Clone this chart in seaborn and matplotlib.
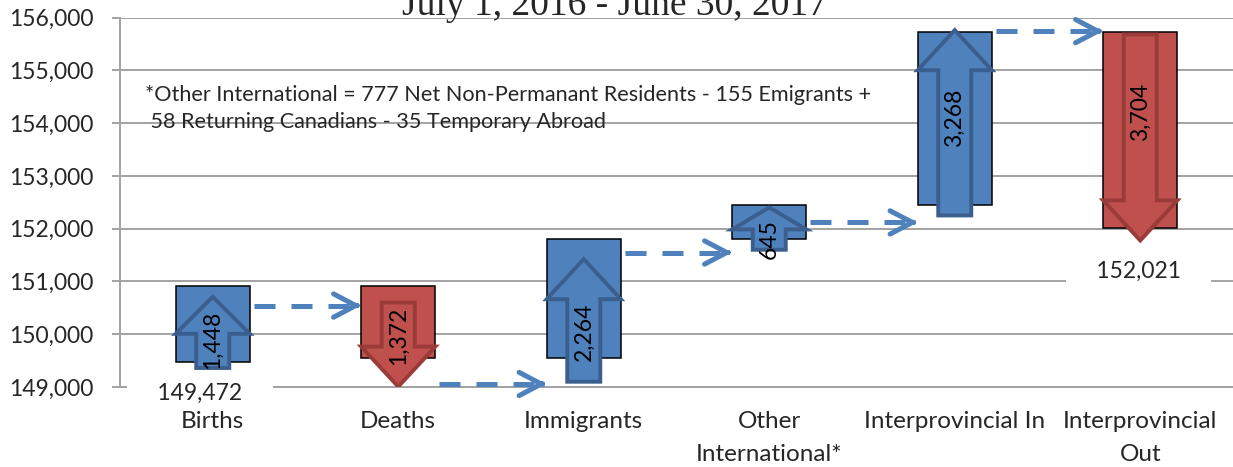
import numpy as np
import pandas as pd
import matplotlib
matplotlib.use("Agg")
import matplotlib.pyplot as plt
from matplotlib.patches import Polygon
import seaborn as sns

# ---------------- data ----------------
categories = ["Births", "Deaths", "Immigrants", "Other\nInternational*",
              "Interprovincial In", "Interprovincial\nOut"]
start_value = 149472
changes = [1448, -1372, 2264, 645, 3268, -3704]
# hand-drawn arrow shapes (tail, tip)
arrow_tail = [149360, 150600, 149100, 151600, 152250, 155679]
arrow_tip = [150708, 149006, 151423, 152402, 155761, 151776]
# centre of the rotated value labels
label_center = [149892, 149968, 150053, 151808, 154104, 154209]
# dashed connectors between columns
connector_level = [150543, 149057, 151548, 152118, 155742]
# start / end value labels (anchor heights)
start_label_y = 148877
end_label_y = 151192
note_lines = ["*Other International = 777 Net Non-Permanant Residents - 155 Emigrants +",
              " 58 Returning Canadians - 35 Temporary Abroad"]
title = "July 1, 2016 - June 30, 2017"
y_ticks = [149000, 150000, 151000, 152000, 153000, 154000, 155000, 156000]

# derived waterfall values
levels = np.concatenate([[start_value], start_value + np.cumsum(changes)])
bottoms = np.minimum(levels[:-1], levels[1:])
heights = np.abs(np.diff(levels))
end_value = int(levels[-1])

BLUE = "#4F81BD"
BLUE_EDGE = "#3A5F8E"
RED = "#C0504D"
RED_EDGE = "#9B3B39"
GRID = "#A3A3A3"

sns.set_style("white")
plt.rcParams["font.family"] = ["Lato", "DejaVu Sans"]

W, H = 1233, 467
fig = plt.figure(figsize=(W / 100, H / 100), dpi=100)
ax = fig.add_axes([120 / W, 1 - 387 / H, (W - 120) / W, (387 - 17.5) / H])

df = pd.DataFrame({"category": categories, "height": heights})
sns.barplot(data=df, x="category", y="height", bottom=bottoms, order=categories,
            width=0.4, errorbar=None, edgecolor="black", linewidth=1.1,
            color=BLUE, ax=ax, zorder=3)
for patch, ch in zip(ax.patches, changes):
    patch.set_facecolor(BLUE if ch > 0 else RED)

# fat arrows
hw, sw = 0.2, 0.089
for i, (t0, t1, ch) in enumerate(zip(arrow_tail, arrow_tip, changes)):
    d = np.sign(t1 - t0)
    hl = min(760, 0.52 * abs(t1 - t0)) * d
    c = i
    pts = [(c - sw, t0), (c + sw, t0), (c + sw, t1 - hl), (c + hw, t1 - hl),
           (c, t1), (c - hw, t1 - hl), (c - sw, t1 - hl)]
    fc, ec = (BLUE, BLUE_EDGE) if ch > 0 else (RED, RED_EDGE)
    ax.add_patch(Polygon(pts, closed=True, facecolor=fc, edgecolor=ec,
                         linewidth=2.8, joinstyle="miter", zorder=4))

# rotated value labels
for i, (ch, yc) in enumerate(zip(changes, label_center)):
    ax.text(i, yc, f"{abs(ch):,}", rotation=90, ha="center", va="center",
            fontsize=16.5, color="black", zorder=6)

# dashed connectors
for i, lv in enumerate(connector_level):
    x0, x1 = i + 0.22, i + 0.80
    ax.plot([x0, x1 - 0.02], [lv, lv], color=BLUE, lw=3.6,
            ls=(0, (4.2, 3.2)), dash_capstyle="butt", zorder=5)
    ax.annotate("", xy=(x1, lv), xytext=(x1 - 0.03, lv),
                arrowprops=dict(arrowstyle="->,head_length=0.8,head_width=0.42",
                                color=BLUE, lw=3.6, shrinkA=0, shrinkB=0,
                                mutation_scale=20), zorder=5)

# start / end labels with white background
ax.text(-0.07, start_label_y, "     " + f"{start_value:,}" + "     ", ha="center",
        va="center", fontsize=16.5, zorder=7,
        bbox=dict(boxstyle="square,pad=0.05", fc="white", ec="none"))
ax.text(len(categories) - 1 - 0.01, end_label_y, "     " + f"{end_value:,}" + "     ",
        ha="center", va="center", fontsize=16.5, zorder=7,
        bbox=dict(boxstyle="square,pad=0.05", fc="white", ec="none"))

# note
ax.text(0.0225, 1 - (95 - 17.5) / (387 - 17.5), note_lines[0], transform=ax.transAxes,
        ha="left", va="center", fontsize=15.6)
ax.text(0.0225, 1 - (122 - 17.5) / (387 - 17.5), note_lines[1], transform=ax.transAxes,
        ha="left", va="center", fontsize=15.6)

# axes styling
ax.set_ylim(y_ticks[0], y_ticks[-1])
ax.set_xlim(-0.5, len(categories) - 0.5)
ax.set_yticks(y_ticks)
ax.set_yticklabels([f"{v:,}" for v in y_ticks])
ax.yaxis.grid(True, color=GRID, lw=1.4, zorder=0)
ax.set_axisbelow(True)
ax.set_xticks(range(len(categories)))
ax.set_xticklabels(categories, linespacing=1.75)
ax.set_xticks(np.arange(-0.5, len(categories)), minor=True)
ax.tick_params(axis="x", which="major", length=0, pad=17, labelsize=17.5)
ax.tick_params(axis="x", which="minor", length=6, width=1.4, color=GRID)
ax.tick_params(axis="y", length=6, width=1.4, color=GRID, pad=13, labelsize=16.5,
               left=True)
ax.set_xlabel("")
ax.set_ylabel("")
for s in ["top", "right"]:
    ax.spines[s].set_visible(False)
for s in ["left", "bottom"]:
    ax.spines[s].set_color(GRID)
    ax.spines[s].set_linewidth(1.4)

fig.text(615 / W, 1 - 15 / H, title, ha="center", va="baseline",
         family=["Liberation Serif"], fontsize=27)

fig.savefig("out.png", dpi=100)
